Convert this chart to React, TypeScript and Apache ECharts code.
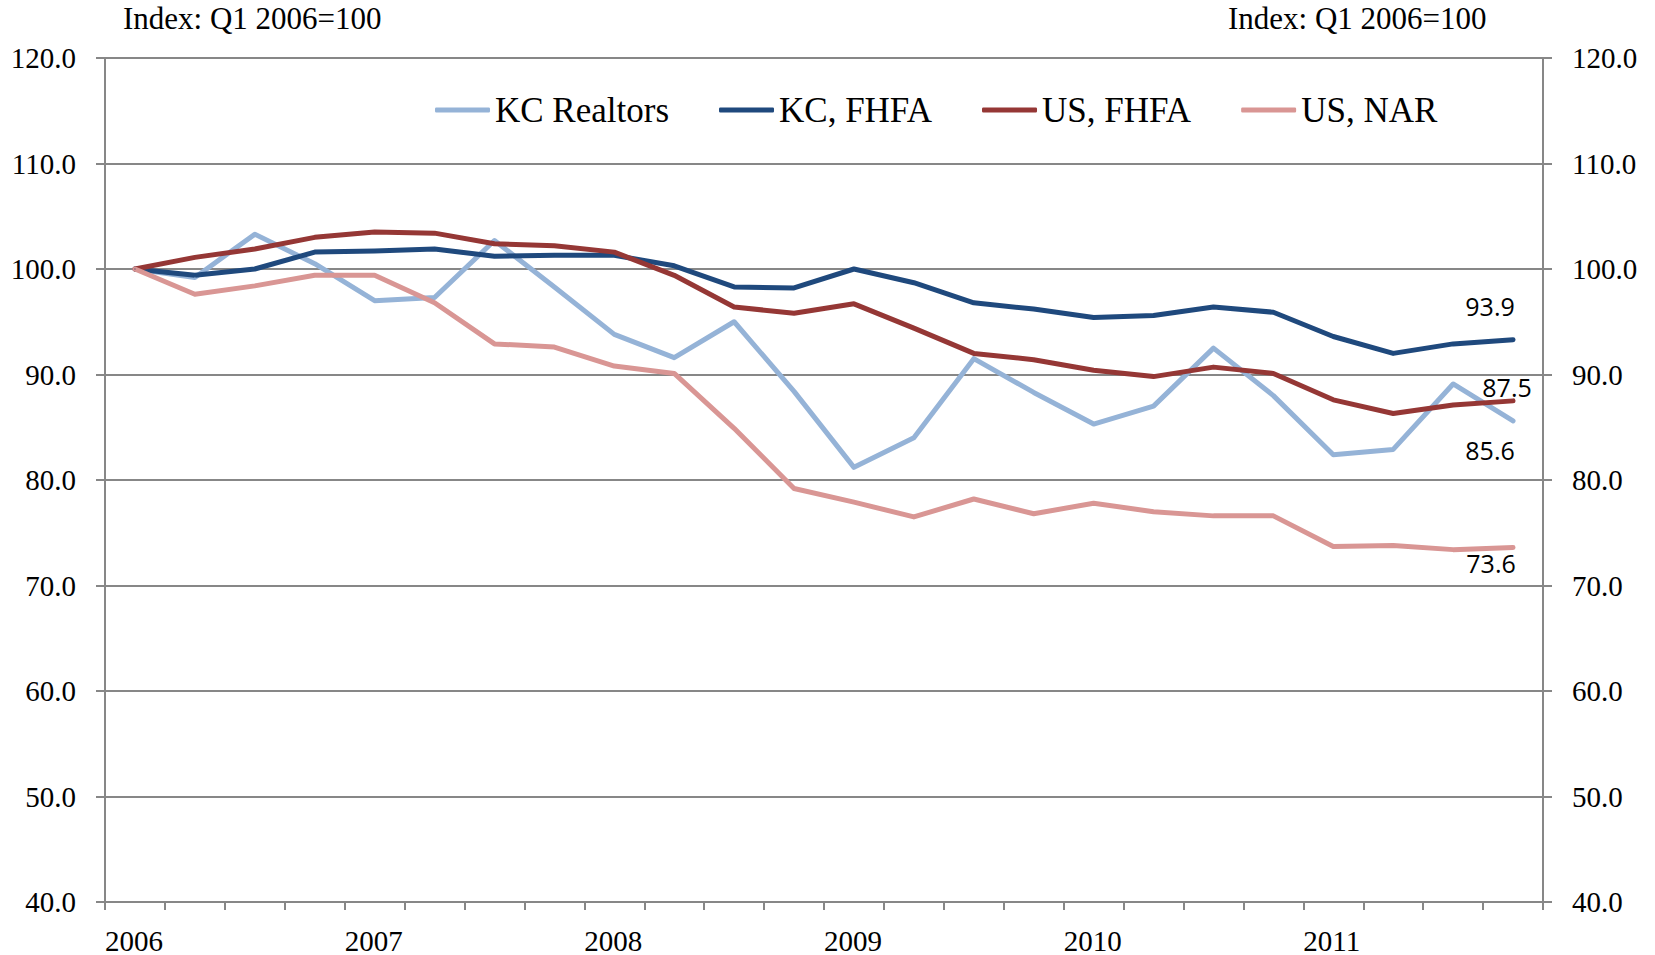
import React, { useEffect, useRef } from 'react';
import * as echarts from 'echarts';

const quarters = [
  '2006 Q1', '2006 Q2', '2006 Q3', '2006 Q4',
  '2007 Q1', '2007 Q2', '2007 Q3', '2007 Q4',
  '2008 Q1', '2008 Q2', '2008 Q3', '2008 Q4',
  '2009 Q1', '2009 Q2', '2009 Q3', '2009 Q4',
  '2010 Q1', '2010 Q2', '2010 Q3', '2010 Q4',
  '2011 Q1', '2011 Q2', '2011 Q3', '2011 Q4',
];
const yearLabels = ['2006', '2007', '2008', '2009', '2010', '2011'];

const kcRealtors = [100.0, 99.2, 103.3, 100.5, 97.0, 97.3, 102.7, 98.3, 93.8, 91.6, 95.0, 88.4, 81.2, 84.0, 91.5, 88.3, 85.3, 87.0, 92.5, 88.0, 82.4, 82.9, 89.1, 85.6];
const kcFhfa = [100.0, 99.4, 100.0, 101.6, 101.7, 101.9, 101.2, 101.3, 101.3, 100.3, 98.3, 98.2, 100.0, 98.7, 96.8, 96.2, 95.4, 95.6, 96.4, 95.9, 93.6, 92.0, 92.9, 93.3];
const usFhfa = [100.0, 101.1, 101.9, 103.0, 103.5, 103.4, 102.4, 102.2, 101.6, 99.4, 96.4, 95.8, 96.7, 94.4, 92.0, 91.4, 90.4, 89.8, 90.7, 90.1, 87.6, 86.3, 87.1, 87.5];
const usNar = [100.0, 97.6, 98.4, 99.4, 99.4, 96.8, 92.9, 92.6, 90.8, 90.1, 84.9, 79.2, 77.9, 76.5, 78.2, 76.8, 77.8, 77.0, 76.6, 76.6, 73.7, 73.8, 73.4, 73.6];

const seriesNames = ['KC Realtors', 'KC, FHFA', 'US, FHFA', 'US, NAR'];
const endLabels = ['85.6', '93.9', '87.5', '73.6'];
const axisTitle = 'Index: Q1 2006=100';

const SERIF = 'Liberation Serif';
const SANS = 'Open Sans';
const GRAY = '#878787';

export default function App() {
  const ref = useRef<HTMLDivElement>(null);

  useEffect(() => {
    if (!ref.current) return;
    const chart = echarts.init(ref.current, undefined, { renderer: 'svg' });

    const mk = (name: string, values: number[], color: string, label: string, offset: number[]) => ({
      type: 'line',
      name,
      xAxisIndex: 0,
      yAxisIndex: 0,
      symbol: 'circle',
      symbolSize: 1,
      showSymbol: true,
      lineStyle: { color, width: 5, cap: 'round', join: 'round' },
      itemStyle: { color },
      emphasis: { disabled: true },
      data: values.map((v, i) =>
        i === values.length - 1
          ? {
              value: v,
              label: {
                show: true,
                formatter: label,
                position: 'inside',
                offset,
                fontFamily: SANS,
                fontSize: 25,
                color: '#000',
              },
            }
          : v
      ),
    });

    const yAxisBase = {
      type: 'value',
      min: 40,
      max: 120,
      interval: 10,
      axisLine: { show: true, lineStyle: { color: GRAY, width: 2 } },
      axisTick: { show: true, length: 9, inside: false, lineStyle: { color: GRAY, width: 2 } },
      axisLabel: {
        formatter: (v: number) => v.toFixed(1),
        margin: 29,
        fontFamily: SERIF,
        fontSize: 29,
        color: '#000',
      },
    };

    chart.setOption({
      animation: false,
      backgroundColor: '#fff',
      textStyle: { fontFamily: SERIF },
      grid: { left: 105, right: 112, top: 58, bottom: 53, containLabel: false },
      legend: {
        data: seriesNames,
        left: 430,
        top: 87,
        icon: 'roundRect',
        itemWidth: 55,
        itemHeight: 5,
        itemGap: 50,
        textStyle: { fontFamily: SERIF, fontSize: 35, color: '#000', lineHeight: 36 },
      },
      graphic: [
        { type: 'text', left: 123, top: 3, style: { text: axisTitle, fontFamily: SERIF, fontSize: 31, fill: '#000' } },
        { type: 'text', left: 1228, top: 3, style: { text: axisTitle, fontFamily: SERIF, fontSize: 31, fill: '#000' } },
      ],
      xAxis: [
        {
          type: 'category',
          data: quarters,
          position: 'bottom',
          boundaryGap: true,
          axisLine: { show: true, lineStyle: { color: GRAY, width: 2 } },
          axisTick: { show: true, length: 8, interval: 0, lineStyle: { color: GRAY, width: 2 } },
          axisLabel: { show: false },
          splitLine: { show: false },
        },
        {
          type: 'value',
          min: 0,
          max: 24,
          interval: 4,
          position: 'bottom',
          axisLine: { show: false },
          axisTick: { show: false },
          splitLine: { show: false },
          axisLabel: {
            formatter: (v: number) => yearLabels[v / 4] ?? '',
            align: 'left',
            margin: 24,
            fontFamily: SERIF,
            fontSize: 29,
            color: '#000',
          },
        },
      ],
      yAxis: [
        { ...yAxisBase, position: 'left', splitLine: { show: true, lineStyle: { color: GRAY, width: 2 } } },
        { ...yAxisBase, position: 'right', splitLine: { show: false } },
      ],
      series: [
        mk(seriesNames[0], kcRealtors, '#95B3D7', endLabels[0], [-23, 29]),
        mk(seriesNames[1], kcFhfa, '#1F497D', endLabels[1], [-23, -34]),
        mk(seriesNames[2], usFhfa, '#953735', endLabels[2], [-6, -14]),
        mk(seriesNames[3], usNar, '#D99694', endLabels[3], [-22, 15]),
      ],
    });

    return () => chart.dispose();
  }, []);

  return (
    <div
      ref={ref}
      style={{ position: 'fixed', left: 0, top: 0, width: 1655, height: 955, background: '#fff' }}
    />
  );
}
